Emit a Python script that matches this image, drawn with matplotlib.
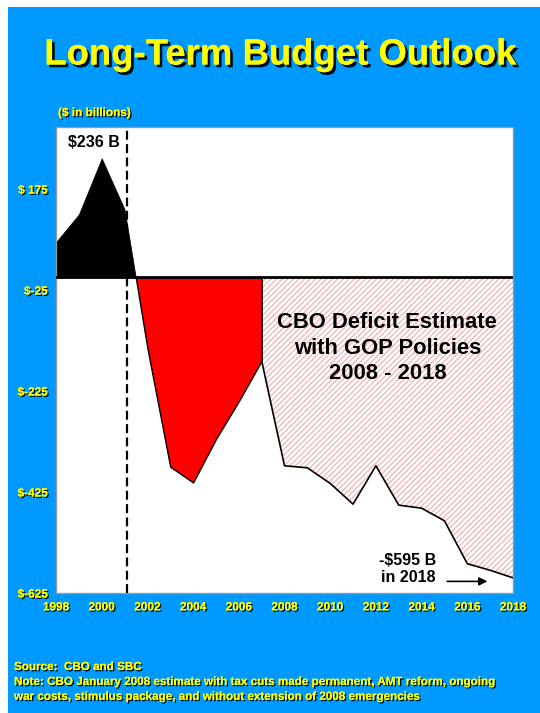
import matplotlib
matplotlib.use('Agg')
import numpy as np
import matplotlib.pyplot as plt
import matplotlib.patheffects as pe
from matplotlib.patches import Rectangle

plt.rcParams['font.family'] = ['Liberation Sans', 'DejaVu Sans']
plt.rcParams['font.weight'] = 'bold'
plt.rcParams['hatch.linewidth'] = 0.7

# actual budget balance ($ billions), 1998-2007
actual_years = [1998, 1999, 2000, 2001, 2002, 2003, 2004, 2005, 2006, 2007]
actual_values = [70, 125, 236, 135, -140, -375, -406, -320, -245, -165]

# CBO projection with GOP policies, 2007-2018
proj_years = [2007, 2008, 2009, 2010, 2011, 2012, 2013, 2014, 2015, 2016, 2017, 2018]
proj_values = [-165, -373, -377, -408, -449, -373, -451, -457, -482, -567, -580, -595]

y_ticks = [175, -25, -225, -425, -625]
y_tick_labels = ['$ 175', '$-25', '$-225', '$-425', '$-625']
x_ticks = list(range(1998, 2019, 2))

blue = '#0099FF'
yellow = '#FFFF00'
shadow = [pe.withSimplePatchShadow(offset=(1, -1), shadow_rgbFace='black', alpha=0.9), pe.Normal()]
big_shadow = [pe.withSimplePatchShadow(offset=(2, -2), shadow_rgbFace='black', alpha=0.9), pe.Normal()]

fig = plt.figure(figsize=(5.4, 7.13), dpi=100)
fig.patch.set_facecolor('white')
fig.patches.append(Rectangle((8 / 540, 0), 1, 1 - 7 / 713, transform=fig.transFigure,
                             facecolor=blue, edgecolor='none', zorder=-10))

ax = fig.add_axes([56 / 540, 1 - 593 / 713, (513 - 56) / 540, (593 - 127) / 713])
ax.set_facecolor('white')

av = np.array(actual_values, dtype=float)
# surplus in black, deficit in red
ax.fill_between(actual_years, av, 0, where=av >= 0, interpolate=True,
                facecolor='black', edgecolor='black', linewidth=0.5, zorder=2)
ax.fill_between(actual_years, av, 0, where=av <= 0, interpolate=True,
                facecolor='red', edgecolor='black', linewidth=1, zorder=2)

# projected deficit, hatched
ax.fill_between(proj_years, proj_values, 0, facecolor='white', edgecolor='#F4A0A0',
                hatch='//////', linewidth=0, zorder=1)
ax.plot(proj_years, proj_values, color='black', linewidth=1.2, zorder=3)

ax.axhline(0, color='black', linewidth=2, zorder=4)
ax.axvline(2001.1, color='black', linewidth=1.6, linestyle=(0, (4, 2)), zorder=5)

ax.set_xlim(1998, 2018)
ax.set_ylim(-625, 298)
ax.set_yticks(y_ticks)
ax.set_yticklabels(y_tick_labels)
ax.set_xticks(x_ticks)
ax.tick_params(length=0, pad=6, labelsize=8.5, labelcolor=yellow)
for lab in ax.get_xticklabels() + ax.get_yticklabels():
    lab.set_fontweight('bold')
    lab.set_path_effects(shadow)
for s in ax.spines.values():
    s.set_color('#999999')
    s.set_linewidth(1)

ax.text(1999.66, 267, '$236 B', ha='center', va='center', fontsize=11.5, fontweight='bold')
ax.text(2012.5, -140, 'CBO Deficit Estimate\nwith GOP Policies\n2008 - 2018', ha='center', va='center',
        fontsize=15.8, fontweight='bold', linespacing=1.3, zorder=6)
ax.text(2013.4, -578, '-$595 B\nin 2018', ha='center', va='center', fontsize=11.5,
        fontweight='bold', linespacing=1.2, zorder=6)
ax.annotate('', xy=(2017.0, -602), xytext=(2015.0, -602),
            arrowprops=dict(arrowstyle='-|>', color='black', lw=1.2, mutation_scale=12), zorder=6)

fig.text(280 / 540, 1 - 55 / 713, 'Long-Term Budget Outlook', ha='center', va='center',
         fontsize=26.3, fontweight='bold', color=yellow, path_effects=big_shadow)
fig.text(58 / 540, 1 - 113 / 713, '($ in billions)', ha='left', va='center',
         fontsize=8.5, fontweight='bold', color=yellow, path_effects=shadow)
fig.text(14 / 540, 1 - 661 / 713,
         'Source:  CBO and SBC\n'
         'Note: CBO January 2008 estimate with tax cuts made permanent, AMT reform, ongoing\n'
         'war costs, stimulus package, and without extension of 2008 emergencies',
         ha='left', va='top', fontsize=8.4, fontweight='bold', color=yellow,
         linespacing=1.32, path_effects=shadow)

fig.savefig('out.png', dpi=100, facecolor=fig.get_facecolor())
